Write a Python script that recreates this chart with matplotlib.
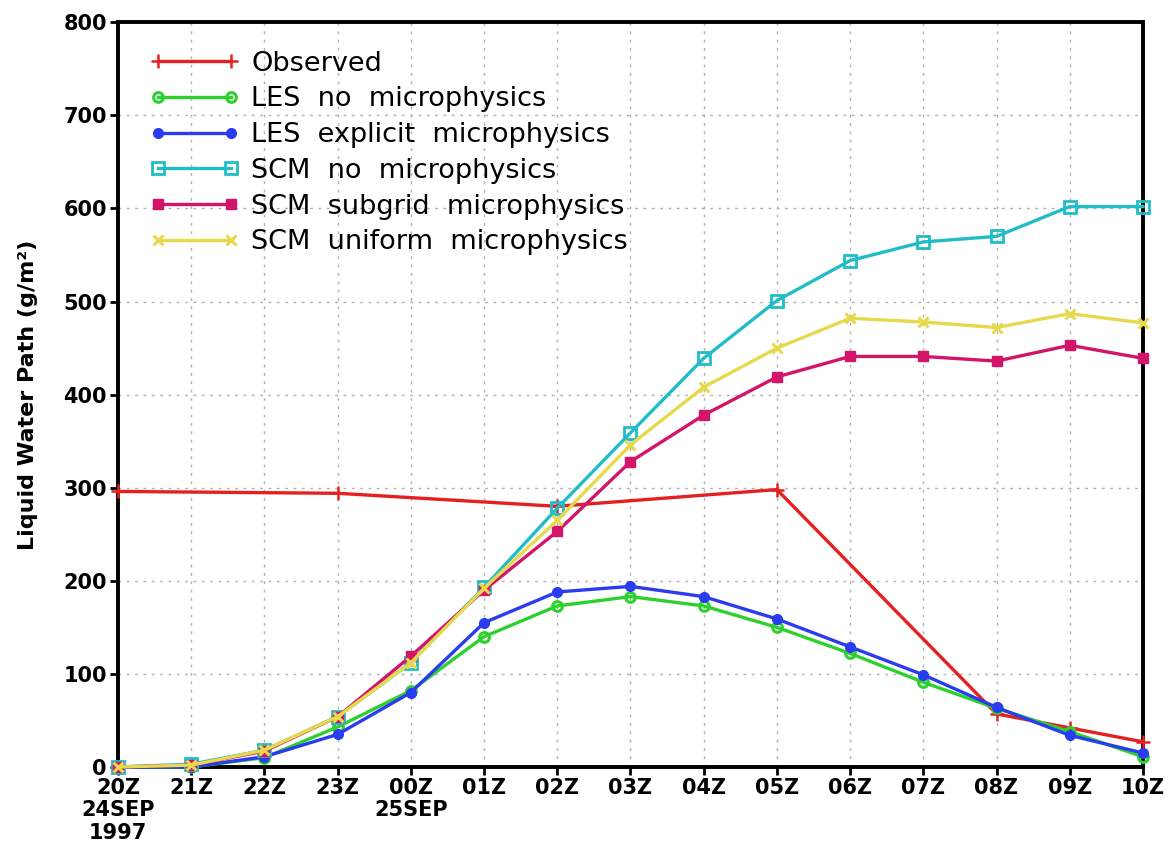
import matplotlib
matplotlib.use("Agg")
import matplotlib.pyplot as plt
import numpy as np

# hours from 20Z 24 Sep 1997 to 10Z 25 Sep 1997
hours = np.arange(15)
hour_labels = ["20Z\n24SEP\n1997", "21Z", "22Z", "23Z", "00Z\n25SEP", "01Z", "02Z",
               "03Z", "04Z", "05Z", "06Z", "07Z", "08Z", "09Z", "10Z"]

obs_hours = [0, 3, 6, 9, 12, 13, 14]
observed = [296, 294, 280, 298, 57, 42, 27]

les_no_micro = [0, 0, 10, 43, 82, 140, 173, 183, 173, 150, 122, 91, 63, 38, 11]
les_explicit = [0, 0, 11, 35, 80, 155, 188, 194, 183, 159, 129, 99, 64, 34, 15]
scm_no_micro = [0, 3, 18, 54, 112, 193, 278, 359, 439, 501, 544, 564, 570, 602, 602]
scm_subgrid = [0, 2, 17, 54, 119, 190, 253, 328, 378, 419, 441, 441, 436, 453, 439]
scm_uniform = [0, 2, 18, 54, 112, 192, 265, 346, 408, 450, 482, 478, 472, 487, 477]

fig = plt.figure(figsize=(11.73, 8.56), dpi=100)
ax = fig.add_axes([0.1006, 0.104, 0.8738, 0.870])

lw = 2.4
ax.plot(obs_hours, observed, color="#e62020", lw=lw, marker="+", ms=10, mew=1.8,
        label="Observed", clip_on=False, zorder=3)
ax.plot(hours, les_no_micro, color="#2ed02e", lw=lw, marker="o", ms=7, mew=2.2,
        mfc="none", label="LES  no  microphysics", clip_on=False, zorder=4)
ax.plot(hours, les_explicit, color="#2a3cf0", lw=lw, marker="o", ms=7,
        label="LES  explicit  microphysics", clip_on=False, zorder=5)
ax.plot(hours, scm_no_micro, color="#20bcc8", lw=lw, marker="s", ms=8, mew=2,
        mfc="none", label="SCM  no  microphysics", clip_on=False, zorder=6)
ax.plot(hours, scm_subgrid, color="#d3156a", lw=lw, marker="s", ms=7,
        label="SCM  subgrid  microphysics", clip_on=False, zorder=7)
ax.plot(hours, scm_uniform, color="#e6da4c", lw=lw, marker="x", ms=7, mew=2.2,
        label="SCM  uniform  microphysics", clip_on=False, zorder=8)

ax.set_xlim(0, 14)
ax.set_ylim(0, 800)
ax.set_xticks(hours)
ax.set_xticklabels(hour_labels, fontsize=15, fontweight="bold", linespacing=1.15)
ax.set_yticks(np.arange(0, 801, 100))
ax.tick_params(axis="y", labelsize=15)
for lab in ax.get_yticklabels():
    lab.set_fontweight("bold")
ax.tick_params(direction="out", length=6, width=2, pad=2)

ax.grid(True, color="#b0b0b0", lw=1.0, linestyle=(0, (2, 4)))
ax.set_axisbelow(True)
for s in ax.spines.values():
    s.set_linewidth(2.8)

ax.set_ylabel("Liquid Water Path (g/m²)", fontsize=16, fontweight="bold", labelpad=18)

ax.legend(loc="upper left", bbox_to_anchor=(0.031, 0.962), frameon=False,
          fontsize=19.5, numpoints=2, handlelength=3.3, handletextpad=0.45,
          labelspacing=0.36, borderpad=0, borderaxespad=0)

fig.savefig("out.png", dpi=100)
